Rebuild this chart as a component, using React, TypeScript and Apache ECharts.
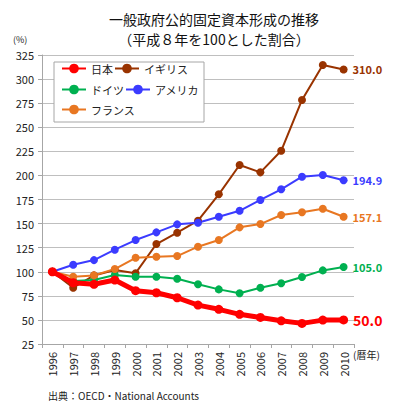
import React, { useEffect, useRef } from "react";
import * as echarts from "echarts";

const years = ["1996","1997","1998","1999","2000","2001","2002","2003","2004","2005","2006","2007","2008","2009","2010"];
const japan = [100, 88.6, 87, 91.4, 80.3, 78.2, 73, 65.4, 61, 55.8, 52.6, 49.1, 46.4, 49.8, 50.0];
const uk = [100, 83.4, 96.2, 101.8, 98.5, 128.8, 140.5, 153, 180.4, 210.8, 203.2, 225.6, 278.3, 314.6, 310.0];
const germany = [100, 90.3, 91.4, 96.6, 94.8, 94.8, 92.7, 87.1, 81.7, 77.6, 83.4, 88, 94.5, 101.4, 105.0];
const usa = [100, 107.3, 112.1, 122.9, 132.9, 140.9, 149.2, 150.9, 157.1, 163.3, 174.5, 185.6, 198.7, 200.4, 194.9];
const france = [100, 94.8, 96.2, 102.8, 114.5, 115.6, 116.3, 126, 132.9, 146.1, 149.5, 158.9, 161.7, 165.4, 157.1];
const seriesNames = ["日本", "イギリス", "ドイツ", "アメリカ", "フランス"];
const legendRows = [["日本", "イギリス"], ["ドイツ", "アメリカ"], ["フランス"]];
const colors = ["#FF0000", "#993300", "#00B050", "#3B3BFF", "#E87722"];
const titleLines = ["一般政府公的固定資本形成の推移", "（平成８年を100とした割合）"];

const FONT = "'Noto Sans CJK JP', 'Noto Sans', sans-serif";

function withEndLabel(vals: number[], color: string, big: boolean) {
  return vals.map((v, i) =>
    i === vals.length - 1
      ? {
          value: v,
          label: {
            show: true,
            position: "right",
            distance: 5,
            formatter: v.toFixed(1),
            color,
            fontWeight: "bold",
            fontSize: big ? 14 : 11,
            fontFamily: FONT,
          },
        }
      : v
  );
}

export default function App() {
  const ref = useRef<HTMLDivElement>(null);
  useEffect(() => {
    if (!ref.current) return;
    const chart = echarts.init(ref.current, undefined, { renderer: "svg" });
    const all = [japan, uk, germany, usa, france];
    const rowTops = [55, 76, 96];
    chart.setOption({
      animation: false,
      textStyle: { fontFamily: FONT },
      legend: legendRows.map((row, r) => ({
        left: 53,
        top: rowTops[r],
        padding: 0,
        itemGap: 1,
        itemWidth: 24,
        itemHeight: 12,
        orient: "horizontal",
        data: row,
        textStyle: { fontSize: 11, color: "#222", width: 44, fontFamily: FONT },
      })),
      grid: { left: 34, right: 42, top: 47, bottom: 60 },
      xAxis: {
        type: "category",
        data: years,
        boundaryGap: true,
        axisLine: { lineStyle: { color: "#A6A6A6" } },
        axisTick: { show: true, alignWithLabel: false, length: 4, lineStyle: { color: "#A6A6A6" } },
        axisLabel: { rotate: 90, fontSize: 11, color: "#222", margin: 8, fontFamily: FONT },
      },
      yAxis: {
        type: "value",
        min: 25,
        max: 325,
        interval: 25,
        axisLine: { show: true, lineStyle: { color: "#A6A6A6" } },
        axisTick: { show: true, length: 4, lineStyle: { color: "#A6A6A6" } },
        splitLine: { lineStyle: { color: "#BFBFBF" } },
        axisLabel: { fontSize: 11, color: "#222", margin: 8, fontFamily: FONT },
      },
      graphic: [
        ...titleLines.map((t, i) => ({
          type: "text",
          x: 206,
          y: 10.5 + i * 20.5,
          style: {
            text: t,
            align: "center",
            verticalAlign: "middle",
            fontSize: 14,
            fill: "#111",
            fontFamily: FONT,
          },
        })),
        {
          type: "rect",
          z: 3,
          shape: { x: 46, y: 54, width: 150, height: 60 },
          style: { fill: "#fff", stroke: "#A6A6A6", lineWidth: 1 },
        },
        { type: "text", left: 5, top: 27, style: { text: "(%)", fontSize: 9, fill: "#222", fontFamily: FONT } },
        { type: "text", left: 345, top: 341, style: { text: "(暦年)", fontSize: 10, fill: "#222", fontFamily: FONT } },
        { type: "text", left: 40, top: 382, style: { text: "出典：OECD・National Accounts", fontSize: 10, fill: "#222", fontFamily: FONT } },
      ],
      series: seriesNames.map((name, k) => ({
        name,
        type: "line",
        data: withEndLabel(all[k], colors[k], k === 0),
        color: colors[k],
        symbol: "circle",
        symbolSize: k === 0 ? 9 : 8,
        lineStyle: { width: k === 0 ? 5 : 2, color: colors[k] },
        itemStyle: { color: colors[k] },
        z: k === 0 ? 3 : 2,
      })),
    });
    return () => chart.dispose();
  }, []);
  return <div ref={ref} style={{ width: 388, height: 396 }} />;
}
